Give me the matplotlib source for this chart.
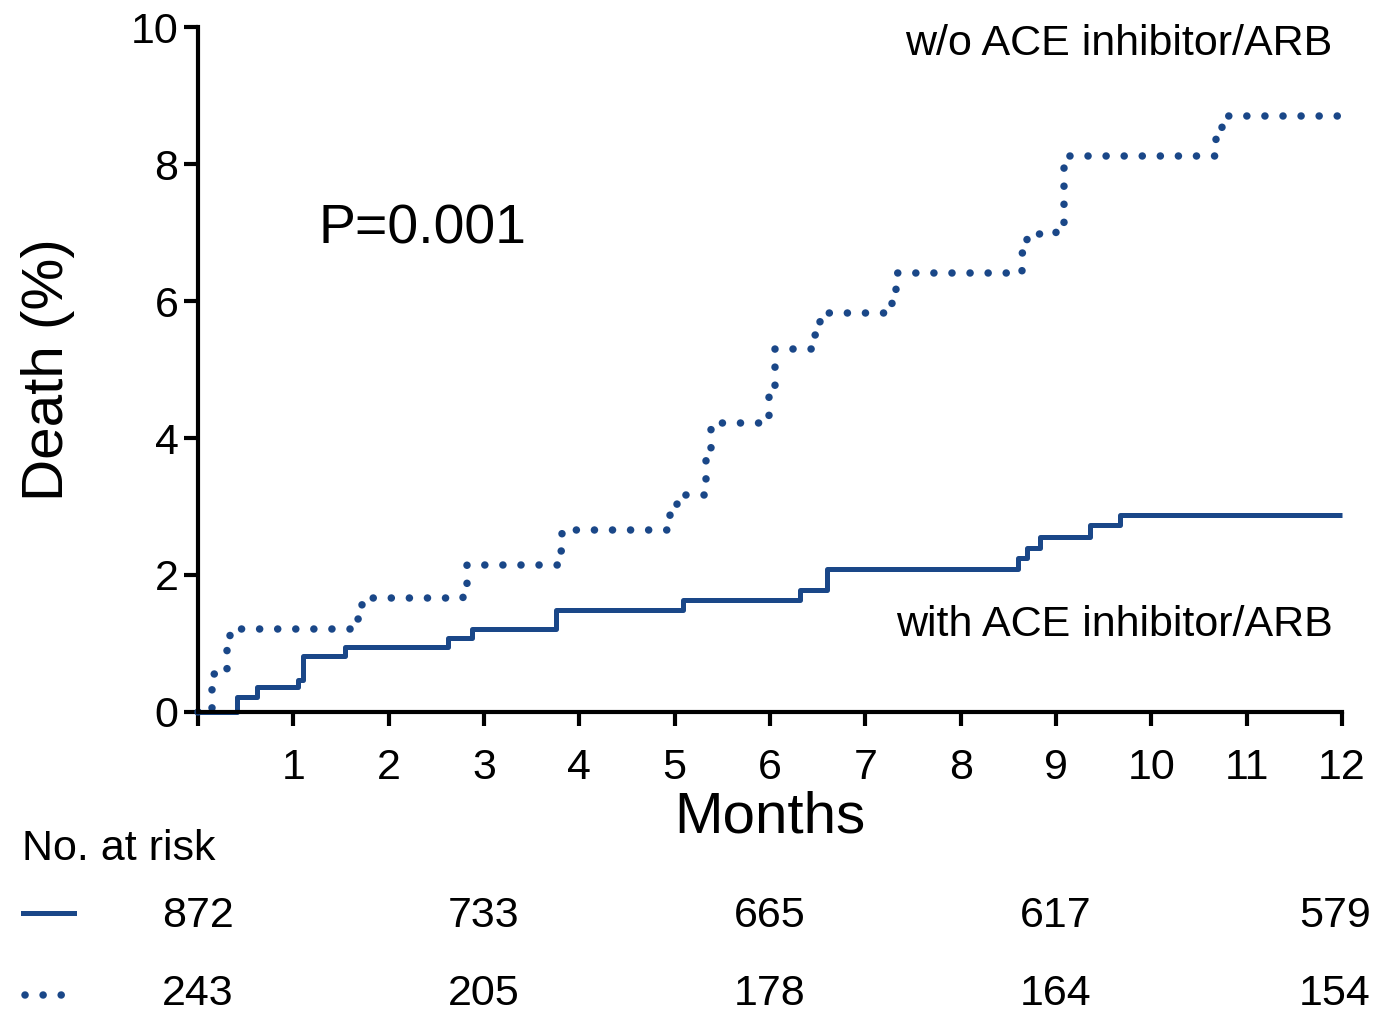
import matplotlib
matplotlib.use("Agg")
import matplotlib.pyplot as plt
from matplotlib.lines import Line2D
from matplotlib.transforms import blended_transform_factory

plt.rcParams['font.family'] = ['Liberation Sans', 'DejaVu Sans']

# curve data (months, cumulative death %)
with_months = [0, 0.41, 0.62, 1.05, 1.10, 1.54, 2.62, 2.87, 3.75, 5.09, 6.31, 6.60,
               8.60, 8.70, 8.83, 9.36, 9.67, 12]
with_death = [0, 0.22, 0.36, 0.47, 0.82, 0.95, 1.08, 1.21, 1.49, 1.64, 1.78, 2.09,
              2.25, 2.40, 2.55, 2.73, 2.88, 2.88]

wo_months = [0, 0.15, 0.30, 0.34, 1.62, 1.72, 2.78, 2.82, 3.78, 3.82, 4.95, 5.02,
             5.33, 5.38, 5.99, 6.05, 6.47, 6.52, 7.28, 7.32, 8.64, 8.70, 9.00, 9.08,
             10.68, 10.74, 12]
wo_death = [0, 0.55, 0.90, 1.21, 1.35, 1.66, 1.85, 2.15, 2.35, 2.65, 2.95, 3.17,
            3.70, 4.22, 4.75, 5.30, 5.50, 5.82, 6.10, 6.41, 6.70, 6.98, 7.10, 8.12,
            8.40, 8.70, 8.70]

risk_months = [0, 3, 6, 9, 12]
risk_with = [872, 733, 665, 617, 579]
risk_wo = [243, 205, 178, 164, 154]

blue = '#1a4788'

fig = plt.figure(figsize=(13.75, 10.14), dpi=100)
ax = fig.add_axes([0.144, 0.298, 0.832, 0.675])

ax.plot(with_months, with_death, drawstyle='steps-post', color=blue, lw=3.6,
        solid_capstyle='butt', clip_on=False)
ax.plot(wo_months, wo_death, drawstyle='steps-post', color=blue, lw=5.4,
        linestyle=(0, (0.01, 2.4)), dash_capstyle='round', clip_on=False)

ax.set_xlim(0, 12)
ax.set_ylim(0, 10)
ax.set_xticks(range(0, 13))
ax.set_xticklabels([''] + [str(i) for i in range(1, 13)])
ax.set_yticks(range(0, 11, 2))

for s in ['top', 'right']:
    ax.spines[s].set_visible(False)
for s in ['left', 'bottom']:
    ax.spines[s].set_linewidth(3)
ax.tick_params(axis='both', width=3, length=10, labelsize=31)
ax.tick_params(axis='x', pad=16)
ax.tick_params(axis='y', pad=4)

ax.set_xlabel('Months', fontsize=42, labelpad=2)
ax.set_ylabel('Death (%)', fontsize=42, labelpad=40)

ax.text(1.26, 7.05, 'P=0.001', fontsize=40, va='center', ha='left')
ax.text(11.9, 9.75, 'w/o ACE inhibitor/ARB', fontsize=31, va='center', ha='right')
ax.text(11.9, 1.27, 'with ACE inhibitor/ARB', fontsize=31, va='center', ha='right')

# number at risk table
tr = blended_transform_factory(ax.transData, fig.transFigure)
fig.text(0.016, 0.163, 'No. at risk', fontsize=31, va='center', ha='left')
for i, (m, a, b) in enumerate(zip(risk_months, risk_with, risk_wo)):
    if i == len(risk_months) - 1:
        # last column sits flush with the right edge
        fig.text(0.997, 0.097, str(a), fontsize=31, ha='right', va='center')
        fig.text(0.997, 0.020, str(b), fontsize=31, ha='right', va='center')
        continue
    ax.text(m, 0.097, str(a), transform=tr, fontsize=31, ha='center', va='center',
            clip_on=False)
    ax.text(m, 0.020, str(b), transform=tr, fontsize=31, ha='center', va='center',
            clip_on=False)

fig.add_artist(Line2D([0.017, 0.054], [0.100, 0.100], transform=fig.transFigure,
                      color=blue, lw=3.6))
fig.add_artist(Line2D([0.018, 0.046], [0.019, 0.019], transform=fig.transFigure,
                      color=blue, lw=5.4, linestyle=(0, (0.01, 2.4)),
                      dash_capstyle='round'))

fig.savefig('out.png', dpi=100)
